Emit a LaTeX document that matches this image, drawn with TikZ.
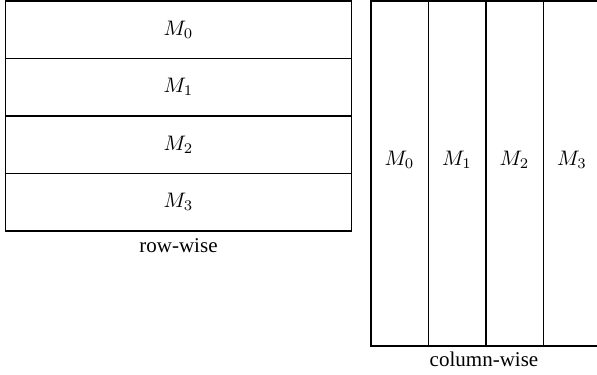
\documentclass[tikz,border=0pt]{standalone}
\usepackage{fontspec}
\setmainfont{Liberation Serif}
\begin{document}
\begin{tikzpicture}[x=0.476pt,y=-0.476pt,
  box/.style={draw=black,line width=0.7pt},
  lab/.style={inner sep=0pt,font=\fontsize{10}{12}\selectfont},
  captext/.style={inner sep=0pt,anchor=base,font=\fontsize{10}{12}\selectfont}]
\useasboundingbox (0,0) rectangle (597,375);
\clip (0,0) rectangle (597,375);
% row-wise
\coordinate (r0) at (5.5,1);
\coordinate (r4) at (351.5,231);
\draw[box] (r0) rectangle (r4);
\draw[box] (5.5,58.5) coordinate (ra) -- (351.5,58.5) coordinate (rb);
\draw[box] (5.5,116) coordinate (rc) -- (351.5,116) coordinate (rd);
\draw[box] (5.5,173.5) coordinate (re) -- (351.5,173.5) coordinate (rf);
\node[lab] (m0) at (178.5,29.5) {$M_0$};
\node[lab] (m1) at (178.5,87) {$M_1$};
\node[lab] (m2) at (178.5,144.5) {$M_2$};
\node[lab] (m3) at (178.5,202) {$M_3$};
\node[captext] (rw) at (178.5,253) {row-wise};
% column-wise
\coordinate (c0) at (371,1);
\coordinate (c4) at (601,346);
\draw[box] (c0) rectangle (c4);
\draw[box] (428.5,1) coordinate (ca) -- (428.5,346) coordinate (cb);
\draw[box] (486,1) coordinate (cc) -- (486,346) coordinate (cd);
\draw[box] (543.5,1) coordinate (ce) -- (543.5,346) coordinate (cf);
\node[lab] (n0) at (399.5,160) {$M_0$};
\node[lab] (n1) at (457,160) {$M_1$};
\node[lab] (n2) at (514.5,160) {$M_2$};
\node[lab] (n3) at (572,160) {$M_3$};
\node[captext] (cw) at (484,366.5) {column-wise};
\end{tikzpicture}
\end{document}
